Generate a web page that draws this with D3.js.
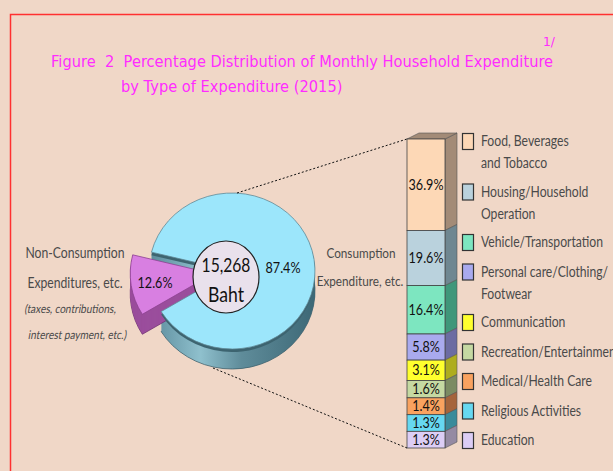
<!DOCTYPE html>
<html>
<head>
<meta charset="utf-8">
<script src="https://cdnjs.cloudflare.com/ajax/libs/d3/7.8.5/d3.min.js"></script>
<style>
  body { margin: 0; background: #f0d7c7; }
  svg { display: block; }
  text { white-space: pre; }
</style>
</head>
<body>
<svg width="613" height="471"></svg>
<script>
// data
var pieNames = ["Consumption", "Non-Consumption"];
var pieValues = [87.4, 12.6];
var totalBaht = "15,268";

var barNames = ["Food, Beverages|and Tobacco", "Housing/Household|Operation", "Vehicle/Transportation",
  "Personal care/Clothing/|Footwear", "Communication", "Recreation/Entertainment",
  "Medical/Health Care", "Religious Activities", "Education"];
var barValues = [36.9, 19.6, 16.4, 5.8, 3.1, 1.6, 1.4, 1.3, 1.3];
var barColors = ["#fdd8b6", "#bad2dd", "#7de6c0", "#a9aaee", "#ffff2e", "#c5d9a2", "#f9a25f", "#66d8f1", "#dccdf5"];
var sideColors = ["#a38b77", "#6f8791", "#3f977a", "#6c6ca2", "#aead1e", "#7b8b62", "#a5643b", "#3a8b9b", "#958aa3"];

var svg = d3.select("svg");
var sans = "Lato, 'Open Sans', sans-serif";
var squeeze = 0.84;

// text squeezed horizontally, to get the narrow look of the original
function ntext(g, x, y, str, size, anchor, extra) {
  return g.append("text")
    .attr("transform", "translate(" + x + "," + y + ") scale(" + squeeze + ",1)" + (extra || ""))
    .attr("text-anchor", anchor || "start")
    .style("font-family", sans).style("font-size", size + "px")
    .text(str);
}

// frame
svg.append("path").attr("d", "M10.5,471 V14.5 H613").attr("fill", "none").attr("stroke", "#ff3030").attr("stroke-width", 1.5);

// title
var title = svg.append("g").attr("fill", "#ff2cff").style("font-family", "Tahoma, 'DejaVu Sans', sans-serif").style("font-size", "15.5px");
title.append("text").attr("transform", "translate(51,67) scale(0.945,1)").text("Figure  2  Percentage Distribution of Monthly Household Expenditure");
title.append("text").attr("transform", "translate(121,92) scale(0.945,1)").text("by Type of Expenditure (2015)");
title.append("text").attr("transform", "translate(543,46) scale(0.945,1)").style("font-size", "13px").text("1/");

// ---- pie ----
var cx = 232, cy = 271, rx = 83, ry = 78, depth = 20;
var deg = Math.PI / 180;
var pie = d3.pie().sort(null).startAngle(284 * deg).endAngle(644 * deg);
var arcs = pie(pieValues);
var arc = d3.arc().innerRadius(0).outerRadius(rx);
var topCol = ["#9ce6fb", "#d87fe1"];
var explode = [0, 19];

var defs = svg.append("defs");
var gr = defs.append("linearGradient").attr("id", "side0").attr("x1", 0).attr("x2", 1).attr("y1", 0).attr("y2", 0);
[["0%", "#5d8d9d"], ["30%", "#8fc0cd"], ["55%", "#5f8c9a"], ["100%", "#3d6876"]].forEach(function (s) {
  gr.append("stop").attr("offset", s[0]).attr("stop-color", s[1]);
});

var pieG = svg.append("g");
function sliceG(d, i, dy) {
  var mid = (d.startAngle + d.endAngle) / 2;
  var ox = Math.sin(mid) * explode[i], oy = -Math.cos(mid) * explode[i] * ry / rx;
  return pieG.append("g").attr("transform", "translate(" + (cx + ox) + "," + (cy + oy + dy) + ") scale(1," + (ry / rx) + ")");
}
// extrusion, drawn as stacked copies from the bottom up
arcs.forEach(function (d, i) {
  for (var k = depth; k >= 1; k--) {
    sliceG(d, i, k).append("path").attr("d", arc(d))
      .attr("fill", i === 0 ? "url(#side0)" : "#9a4e9c")
      .attr("stroke", k === depth ? (i === 0 ? "#3a5f6b" : "#6d2f70") : "none")
      .attr("stroke-width", 0.8);
  }
});
// dark cut face of the big slice
sliceG(arcs[0], 0, 3).append("path").attr("d", arc(arcs[0])).attr("fill", "#3d6470");
arcs.forEach(function (d, i) {
  sliceG(d, i, 0).append("path").attr("d", arc(d))
    .attr("fill", topCol[i]).attr("stroke", i === 0 ? "#5e8794" : "#8a3f8e").attr("stroke-width", 0.8);
});

// centre label
svg.append("ellipse").attr("cx", cx - 6).attr("cy", cy + 6).attr("rx", 33).attr("ry", 36)
  .attr("fill", "#e9e1ec").attr("stroke", "#222").attr("stroke-width", 1.2);
var ctr = svg.append("g").attr("fill", "#111");
ntext(ctr, cx - 6, cy + 1, totalBaht, 20, "middle", " scale(0.93,1)");
ntext(ctr, cx - 6, cy + 31, "Baht", 21, "middle");

// slice percent labels
var pl = svg.append("g").attr("fill", "#111");
ntext(pl, 283, 273, pieValues[0] + "%", 15, "middle");
ntext(pl, 155, 288, pieValues[1] + "%", 15, "middle");

// pie side labels
var lab = svg.append("g").attr("fill", "#4a4a4a");
ntext(lab, 361, 258, pieNames[0], 14, "middle");
ntext(lab, 360, 286, "Expenditure, etc.", 14, "middle");
ntext(lab, 75, 258, pieNames[1], 14.5, "middle");
ntext(lab, 75, 288, "Expenditures, etc.", 14.5, "middle");
ntext(lab, 70, 313, "(taxes, contributions,", 12, "middle", " skewX(-12)");
ntext(lab, 77, 339, "interest payment, etc.)", 12, "middle", " skewX(-12)");

// ---- stacked bar ----
var bx = 407, bw = 38, dx = 12, dyb = -6, barTop = 139, barBottom = 448;
// heights: offset + linear, matching the figure's enlarged small segments
var hScale = d3.scaleLinear().domain([0, d3.max(barValues)]).range([14, 92]);
var rawH = barValues.map(hScale);
var hNorm = d3.scaleLinear().domain([0, d3.sum(rawH)]).range([0, barBottom - barTop]);
var ys = [];
var acc = 0;
rawH.forEach(function (h) { ys.push([barTop + hNorm(acc), barTop + hNorm(acc + h)]); acc += h; });

var barG = svg.append("g");
barG.selectAll("path.side").data(barValues).enter().append("path").attr("class", "side")
  .attr("d", function (v, i) {
    var y0 = ys[i][0], y1 = ys[i][1], x = bx + bw;
    return "M" + x + "," + y0 + " L" + (x + dx) + "," + (y0 + dyb) + " L" + (x + dx) + "," + (y1 + dyb) + " L" + x + "," + y1 + "Z";
  })
  .attr("fill", function (v, i) { return sideColors[i]; }).attr("stroke", "#555").attr("stroke-width", 0.6);
barG.append("path")
  .attr("d", "M" + bx + "," + barTop + " L" + (bx + dx) + "," + (barTop + dyb) + " L" + (bx + bw + dx) + "," + (barTop + dyb) + " L" + (bx + bw) + "," + barTop + "Z")
  .attr("fill", sideColors[0]).attr("stroke", "#555").attr("stroke-width", 0.6);
barG.selectAll("rect").data(barValues).enter().append("rect")
  .attr("x", bx).attr("y", function (v, i) { return ys[i][0]; }).attr("width", bw)
  .attr("height", function (v, i) { return ys[i][1] - ys[i][0]; })
  .attr("fill", function (v, i) { return barColors[i]; }).attr("stroke", "#444").attr("stroke-width", 0.8);
var bl = barG.append("g").attr("fill", "#111");
barValues.forEach(function (v, i) {
  ntext(bl, bx + bw / 2, (ys[i][0] + ys[i][1]) / 2 + 5, v.toFixed(1) + "%", 15, "middle");
});

// dashed connectors
svg.append("line").attr("x1", cx + 5).attr("y1", cy - ry).attr("x2", bx).attr("y2", barTop)
  .attr("stroke", "#111").attr("stroke-dasharray", "2,2");
svg.append("line").attr("x1", cx - 19).attr("y1", cy + ry + depth - 1).attr("x2", bx).attr("y2", barBottom)
  .attr("stroke", "#111").attr("stroke-dasharray", "2,2");

// legend
var ly = 133;
var leg = svg.append("g").attr("fill", "#4a4a4a");
barNames.forEach(function (n, i) {
  var lines = n.split("|");
  leg.append("rect").attr("x", 462.5).attr("y", ly + 0.5).attr("width", 11).attr("height", 16)
    .attr("fill", barColors[i]).attr("stroke", "#333").attr("stroke-width", 1.2);
  lines.forEach(function (t, j) {
    ntext(leg, 481, ly + 13 + j * 22, t, 14.5);
  });
  ly += 29.5 + (lines.length - 1) * 21;
});
</script>
</body>
</html>
